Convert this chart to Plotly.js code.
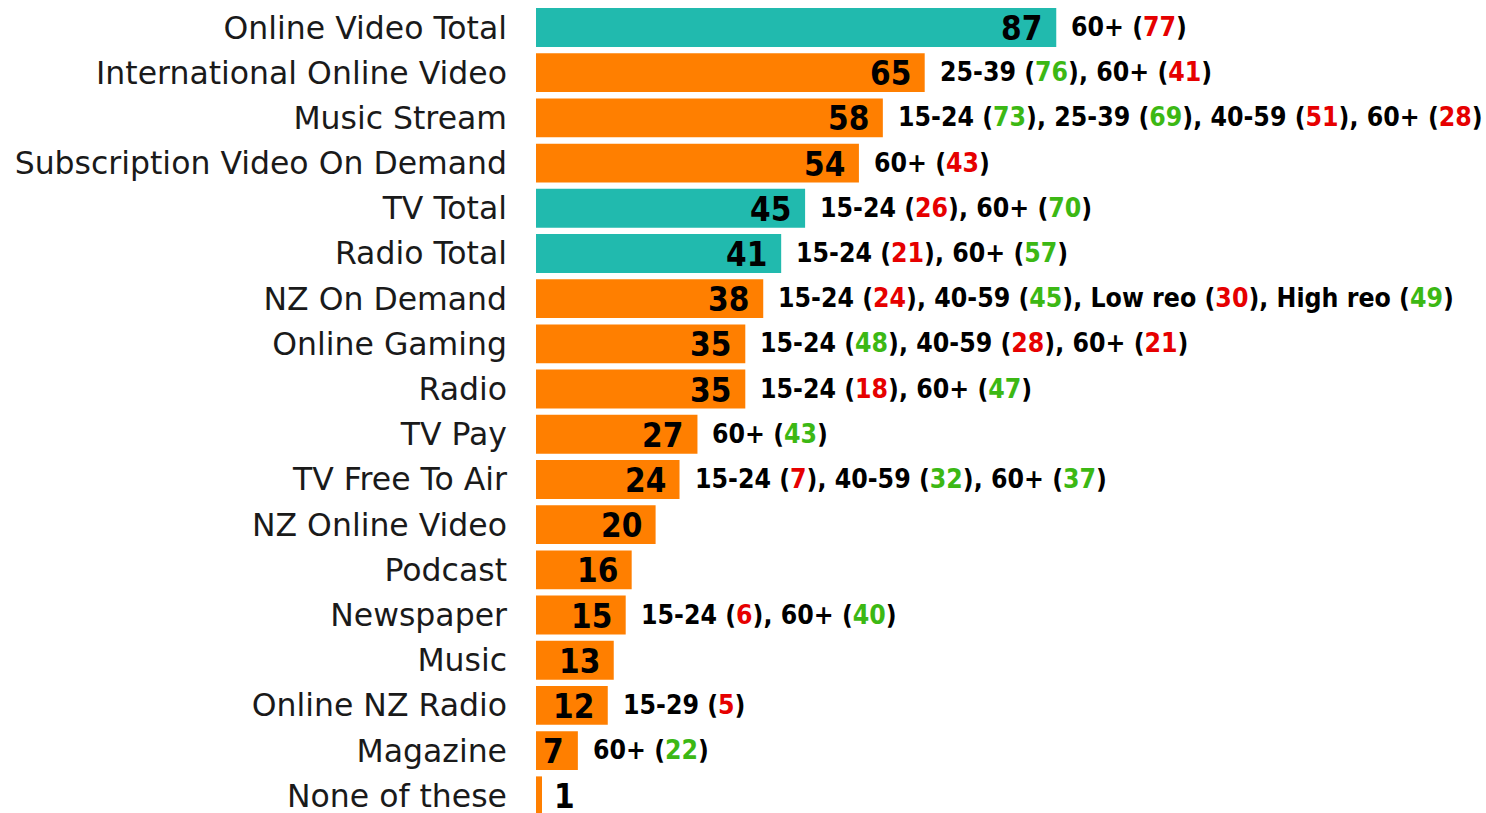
<!DOCTYPE html>
<html>
<head>
<meta charset="utf-8">
<script src="https://cdn.plot.ly/plotly-3.0.1.min.js"></script>
<style>html,body{margin:0;padding:0;background:#fff;}#chart{width:1486px;height:813px;}</style>
</head>
<body>
<div id="chart"></div>
<script>
const categories = ["Online Video Total","International Online Video","Music Stream","Subscription Video On Demand","TV Total","Radio Total","NZ On Demand","Online Gaming","Radio","TV Pay","TV Free To Air","NZ Online Video","Podcast","Newspaper","Music","Online NZ Radio","Magazine","None of these"];
const values = [87,65,58,54,45,41,38,35,35,27,24,20,16,15,13,12,7,1];
const isTotal = [true,false,false,false,true,true,false,false,false,false,false,false,false,false,false,false,false,false];
// [group, value, direction]
const notes = [
  [["60+",77,"low"]],
  [["25-39",76,"high"],["60+",41,"low"]],
  [["15-24",73,"high"],["25-39",69,"high"],["40-59",51,"low"],["60+",28,"low"]],
  [["60+",43,"low"]],
  [["15-24",26,"low"],["60+",70,"high"]],
  [["15-24",21,"low"],["60+",57,"high"]],
  [["15-24",24,"low"],["40-59",45,"high"],["Low reo",30,"low"],["High reo",49,"high"]],
  [["15-24",48,"high"],["40-59",28,"low"],["60+",21,"low"]],
  [["15-24",18,"low"],["60+",47,"high"]],
  [["60+",43,"high"]],
  [["15-24",7,"low"],["40-59",32,"high"],["60+",37,"high"]],
  [],
  [],
  [["15-24",6,"low"],["60+",40,"high"]],
  [],
  [["15-29",5,"low"]],
  [["60+",22,"high"]],
  []
];

const TEAL = "#21BAAE", ORANGE = "#FF7F00", RED = "#E60000", GREEN = "#3CB814";
const valueFont = {family: "DejaVu Sans Condensed", size: 33, color: "#000", weight: 700};
const noteFont = {family: "DejaVu Sans Condensed", size: 26.4, color: "#000", weight: 700};

const trace = {
  type: "bar",
  orientation: "h",
  y: categories,
  x: values,
  marker: {color: isTotal.map(t => t ? TEAL : ORANGE)},
  hoverinfo: "none",
  cliponaxis: false
};

const annotations = [];
categories.forEach((c, i) => {
  const v = values[i];
  const inside = v >= 5;
  annotations.push({
    x: v, y: c, xref: "x", yref: "y",
    text: "<b>" + v + "</b>",
    showarrow: false,
    xanchor: inside ? "right" : "left",
    xshift: inside ? -12 : 10,
    yshift: -1,
    font: valueFont
  });
  if (notes[i].length) {
    const txt = notes[i].map(n =>
      n[0] + " (<span style=\"color:" + (n[2] === "high" ? GREEN : RED) + "\">" + n[1] + "</span>)"
    ).join(", ");
    annotations.push({
      x: v, y: c, xref: "x", yref: "y",
      text: "<b>" + txt + "</b>",
      showarrow: false,
      xanchor: "left",
      xshift: 13,
      yshift: 1,
      font: noteFont
    });
  }
});

const layout = {
  width: 1486, height: 813,
  margin: {l: 536, r: 352, t: 0, b: 0, pad: 0},
  paper_bgcolor: "#fff", plot_bgcolor: "#fff",
  showlegend: false,
  bargap: 0.14,
  xaxis: {range: [0, 100], visible: false, fixedrange: true},
  yaxis: {
    type: "category",
    categoryorder: "array", categoryarray: categories,
    range: [17.38, -0.608],
    showgrid: false, zeroline: false, showline: false,
    ticks: "", ticklabelstandoff: 28,
    tickfont: {family: "DejaVu Sans", size: 31.5, color: "#1a1a1a"}
  },
  annotations: annotations
};

Plotly.newPlot("chart", [trace], layout, {staticPlot: true, displayModeBar: false});
</script>
</body>
</html>
